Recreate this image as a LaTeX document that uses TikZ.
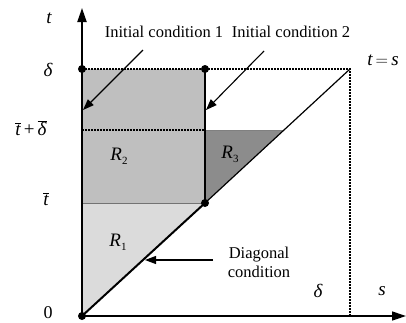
\documentclass[tikz,border=0pt]{standalone}
\usepackage{fontspec}
\setmainfont{Liberation Serif}
\usetikzlibrary{arrows.meta}
\begin{document}
\begin{tikzpicture}[x=1pt,y=-1pt,
  lbl/.style={inner sep=0pt,font=\fontsize{16.5}{19}\selectfont},
  mlbl/.style={inner sep=0pt,font=\fontsize{19}{21}\selectfont\itshape},
  arr/.style={-{Triangle[length=11pt,width=8pt]},line width=1.1pt},
  dotn/.style={circle,fill=black,inner sep=0pt,minimum size=8pt},
  dotted2/.style={dash pattern=on 1.5pt off 1.5pt,line width=1.1pt}]
\useasboundingbox (0,0) rectangle (406,322);
% coordinates
\coordinate (O) at (82,316);
\coordinate (TL) at (82,69);
\coordinate (TM) at (205,69);
\coordinate (MB) at (205,203);
\coordinate (LB) at (82,203);
\coordinate (LM) at (82,130);
\coordinate (MM) at (205,130);
\coordinate (DM) at (284,130);
\coordinate (TR) at (350,69);
\coordinate (BR) at (350,316);
% fills
\fill[black!14] (O) -- (MB) -- (LB) -- cycle;
\fill[black!25] (LB) rectangle (TM);
\fill[black!45] (MM) -- (DM) -- (MB) -- cycle;
\draw[black!55,line width=0.8pt] (LB) -- (MB);
\draw[black!50,line width=0.8pt] (MM) -- (DM);
% dotted lines
\draw[dotted2] (TL) -- (TR) -- (BR);
\draw[dotted2] (LM) -- (MM);
% diagonal
\draw[line width=2pt] (O) -- (MB);
\draw[line width=1.2pt] (MB) -- (TR);
% thick vertical
\draw[line width=2.5pt] (TM) -- (MB);
% axes
\coordinate (tend) at (82,8);
\coordinate (send) at (406,316);
\draw[line width=2pt,-{Triangle[length=14pt,width=9pt]}] (O) -- (tend);
\draw[line width=1.4pt,-{Triangle[length=14pt,width=9pt]}] (O) -- (send);
% dots
\node[dotn] (d1) at (TL) {};
\node[dotn] (d2) at (TM) {};
\node[dotn] (d3) at (MB) {};
\node[dotn] (d4) at (O) {};
% axis labels
\node[mlbl] (lt) at (49,18) {t};
\node[mlbl] (ldelta) at (48,70) {δ};
\node[mlbl] (ltd) at (31,128) {$\overline{\mbox{\itshape t}}$\,\upshape+\,$\overline{\mbox{\itshape δ}}$};
\node[mlbl] (ltbar) at (46,199) {$\overline{\mbox{\itshape t}}$};
\node[lbl,font=\fontsize{18}{20}\selectfont] (l0) at (48,313) {0};
\node[mlbl] (ld2) at (318,291) {δ};
\node[mlbl] (ls) at (382,291) {s};
\node[mlbl] (lts) at (383,60) {t\,{\upshape$=$}\,s};
% region labels
\node[mlbl] (r1) at (118,242) {R\raisebox{-0.45ex}{\upshape\fontsize{11}{12}\selectfont 1}};
\node[mlbl] (r2) at (119,156) {R\raisebox{-0.45ex}{\upshape\fontsize{11}{12}\selectfont 2}};
\node[mlbl] (r3) at (230,154) {R\raisebox{-0.45ex}{\upshape\fontsize{11}{12}\selectfont 3}};
% condition labels
\node[lbl] (ic1) at (164,32) {Initial condition 1};
\node[lbl] (ic2) at (291,32) {Initial condition 2};
\node[lbl,align=center] (dc) at (259,262) {Diagonal\\condition};
% arrows
\coordinate (a1s) at (143,50);
\coordinate (a1e) at (83,110);
\coordinate (a2s) at (264,51);
\coordinate (a2e) at (206,110);
\coordinate (a3s) at (213,260);
\coordinate (a3e) at (145,260);
\draw[arr] (a1s) -- (a1e);
\draw[arr] (a2s) -- (a2e);
\draw[arr] (a3s) -- (a3e);
\end{tikzpicture}
\end{document}
